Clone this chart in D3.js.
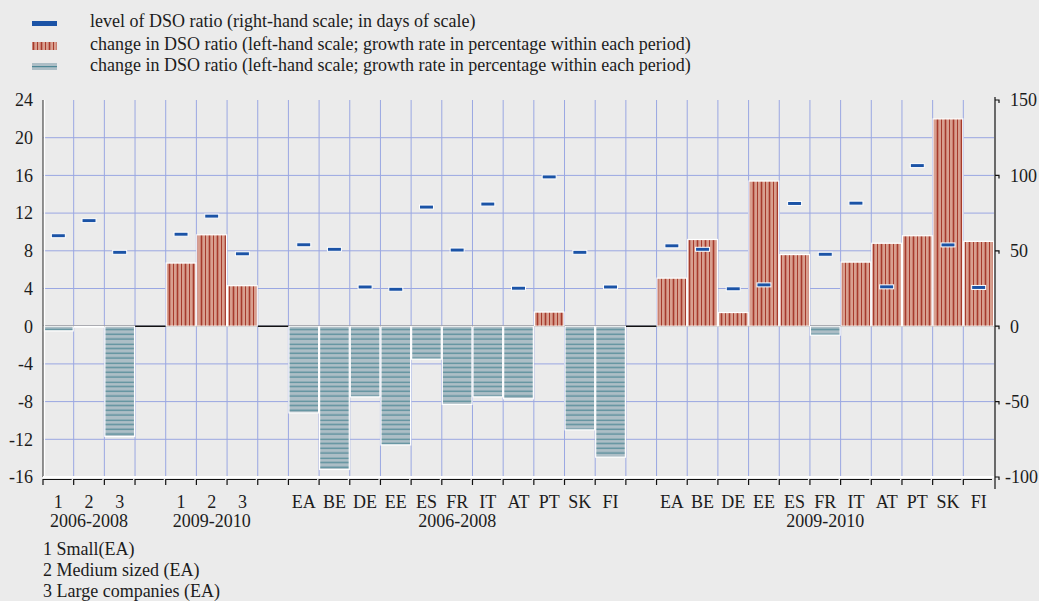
<!DOCTYPE html>
<meta charset="utf-8">
<style>
  body { margin: 0; background: #ebebeb; }
  text { font-family: "Liberation Serif", "Times New Roman", serif; font-size: 18px; fill: #1c1c1c; }
  .grid line { stroke: #9aa7e2; stroke-width: 1; }
</style>
<svg width="1039" height="601"></svg>
<script src="https://d3js.org/d3.v7.min.js"></script>
<script>
// ---- data ----
var sizeCats = ["1", "2", "3"];
var countryCats = ["EA", "BE", "DE", "EE", "ES", "FR", "IT", "AT", "PT", "SK", "FI"];
var periods = ["2006-2008", "2009-2010"];
var sizeNotes = ["1 Small(EA)", "2 Medium sized (EA)", "3 Large companies (EA)"];

// change in DSO ratio, % (left scale)
var sizeChange0608 = [-0.5, -0.1, -11.7];
var sizeChange0910 = [6.7, 9.7, 4.3];
var countryChange0608 = [-9.2, -15.2, -7.5, -12.6, -3.5, -8.3, -7.5, -7.7, 1.5, -11.0, -13.9];
var countryChange0910 = [5.1, 9.2, 1.45, 15.4, 7.6, -0.95, 6.8, 8.8, 9.6, 22.0, 9.0];

// level of DSO ratio, days (right scale)
var sizeDso0608 = [60, 70, 49];
var sizeDso0910 = [61, 73, 48];
var countryDso0608 = [54, 51, 26, 24.5, 79, 50.5, 81, 25.2, 99, 49, 26];
var countryDso0910 = [53.3, 51, 24.8, 27.4, 81.4, 47.7, 81.6, 26.1, 106.5, 53.9, 25.7];

var leftTicks = [24, 20, 16, 12, 8, 4, 0, -4, -8, -12, -16];
var rightTicks = [150, 100, 50, 0, -50, -100];

// ---- build slot list (with empty gaps between blocks) ----
var blocks = [
  { cats: sizeCats, period: periods[0], chg: sizeChange0608, dso: sizeDso0608 },
  { cats: sizeCats, period: periods[1], chg: sizeChange0910, dso: sizeDso0910 },
  { cats: countryCats, period: periods[0], chg: countryChange0608, dso: countryDso0608 },
  { cats: countryCats, period: periods[1], chg: countryChange0910, dso: countryDso0910 }
];
var slots = [];
blocks.forEach(function(b, bi) {
  b.start = slots.length;
  b.cats.forEach(function(c, i) {
    slots.push({ id: slots.length, cat: c, chg: b.chg[i], dso: b.dso[i] });
  });
  b.end = slots.length - 1;
  if (bi < blocks.length - 1) slots.push({ id: slots.length, gap: true });
});

var svg = d3.select("svg");
var pL = 43, pR = 994, pT = 100, pB = 477;

var x = d3.scaleBand().domain(slots.map(function(d) { return d.id; })).range([pL, pR]).padding(0);
var y = d3.scaleLinear().domain([-16, 24]).range([pB, pT]);
var y2 = d3.scaleLinear().domain([-100, 150]).range([pB, pT]);

// patterns
var defs = svg.append("defs");
var pr = defs.append("pattern").attr("id", "redStripe")
    .attr("patternUnits", "userSpaceOnUse").attr("width", 16).attr("height", 10);
pr.append("rect").attr("width", 16).attr("height", 10).attr("fill", "#d89f8f");
[[1.5, 1.6], [5.5, 1], [9.5, 1.6], [13.5, 1]].forEach(function(s) {
  pr.append("rect").attr("x", s[0] - s[1] / 2).attr("y", 0).attr("width", s[1]).attr("height", 10).attr("fill", "#a63a2c");
});
var pb = defs.append("pattern").attr("id", "blueStripe")
    .attr("patternUnits", "userSpaceOnUse").attr("width", 10).attr("height", 19).attr("y", 324.7);
pb.append("rect").attr("width", 10).attr("height", 19).attr("fill", "#adbec6");
[[0, 2.2], [4.75, 1.2], [9.5, 1.2], [14.25, 1.2]].forEach(function(s) {
  pb.append("rect").attr("x", 0).attr("y", s[0] - s[1] / 2).attr("width", 10).attr("height", s[1]).attr("fill", "#4d8795");
});

// gridlines
var grid = svg.append("g").attr("class", "grid");
grid.selectAll("line.h")
  .data(leftTicks.filter(function(t) { return t > -16 && t < 24; }))
  .enter().append("line").attr("class", "h")
  .attr("x1", pL).attr("x2", pR)
  .attr("y1", function(d) { return y(d); }).attr("y2", function(d) { return y(d); });
grid.selectAll("line.v")
  .data(slots.slice(1))
  .enter().append("line").attr("class", "v")
  .attr("x1", function(d) { return x(d.id); }).attr("x2", function(d) { return x(d.id); })
  .attr("y1", pT).attr("y2", pB);

// zero line
svg.append("line")
  .attr("x1", pL).attr("x2", pR).attr("y1", y(0)).attr("y2", y(0))
  .attr("stroke", "#111").attr("stroke-width", 1.5);

// bars
var data = slots.filter(function(d) { return !d.gap; });
svg.append("g").selectAll("rect")
  .data(data)
  .enter().append("rect")
  .attr("x", function(d) { return x(d.id) + 0.5; })
  .attr("width", x.bandwidth() - 1)
  .attr("y", function(d) { return y(Math.max(0, d.chg)); })
  .attr("height", function(d) { return Math.abs(y(d.chg) - y(0)); })
  .attr("fill", function(d) { return d.chg >= 0 ? "url(#redStripe)" : "url(#blueStripe)"; })
  .attr("stroke", "#fff").attr("stroke-width", 1.2);

// DSO level markers
svg.append("g").selectAll("rect")
  .data(data)
  .enter().append("rect")
  .attr("x", function(d) { return x(d.id) + x.bandwidth() / 2 - 7; })
  .attr("y", function(d) { return y2(d.dso) - 2; })
  .attr("width", 14).attr("height", 4)
  .attr("fill", "#1b53a6").attr("stroke", "#fff").attr("stroke-width", 1);

// left axis
svg.append("line").attr("x1", pL).attr("x2", pL).attr("y1", pT).attr("y2", pB)
  .attr("stroke", "#555").attr("stroke-width", 1.3);
svg.append("line").attr("x1", pL + 1.5).attr("x2", pL + 1.5).attr("y1", pT).attr("y2", pB)
  .attr("stroke", "#fff").attr("stroke-width", 1.2);
svg.append("g").selectAll("text")
  .data(leftTicks).enter().append("text")
  .attr("x", 33).attr("y", function(d) { return y(d); }).attr("dy", "0.35em")
  .attr("text-anchor", "end").text(function(d) { return d; });

// bottom axis
svg.append("line").attr("x1", pL).attr("x2", pR).attr("y1", pB).attr("y2", pB)
  .attr("stroke", "#fff").attr("stroke-width", 2);
var bticks = svg.append("g").attr("stroke", "#111").attr("stroke-width", 1.2).attr("fill", "none");
bticks.selectAll("path")
  .data(slots).enter().append("path")
  .attr("d", function(d) {
    var x0 = x(d.id), x1 = x0 + x.bandwidth() - 2;
    return "M" + x0 + ",485V479.5H" + x1;
  });

// right axis
var ra = svg.append("g").attr("stroke", "#111").attr("stroke-width", 1.2).attr("fill", "none");
ra.append("line").attr("x1", pR + 1).attr("x2", pR + 1).attr("y1", pT - 3).attr("y2", 489);
ra.selectAll("path").data(rightTicks).enter().append("path")
  .attr("d", function(d) { return "M" + (pR + 1) + "," + y2(d) + "H" + (pR + 5) + "V" + (y2(d) + 3); });
svg.append("g").selectAll("text")
  .data(rightTicks).enter().append("text")
  .attr("x", function(d) { return d < 0 ? 1005 : 1010; })
  .attr("y", function(d) { return y2(d); }).attr("dy", "0.35em")
  .text(function(d) { return d; });

// category labels
svg.append("g").selectAll("text")
  .data(data).enter().append("text")
  .attr("x", function(d) { return x(d.id) + x.bandwidth() / 2; })
  .attr("y", 508).attr("text-anchor", "middle")
  .text(function(d) { return d.cat; });

// period labels
svg.append("g").selectAll("text")
  .data(blocks).enter().append("text")
  .attr("x", function(b) { return (x(b.start) + x(b.end) + x.bandwidth()) / 2; })
  .attr("y", 527).attr("text-anchor", "middle")
  .text(function(b) { return b.period; });

// footnotes
svg.append("g").selectAll("text")
  .data(sizeNotes).enter().append("text")
  .attr("x", 43).attr("y", function(d, i) { return 555 + i * 21; })
  .text(function(d) { return d; });

// legend
var lg = svg.append("g");
lg.append("rect").attr("x", 32).attr("y", 21).attr("width", 25).attr("height", 5).attr("fill", "#1b53a6");
lg.append("rect").attr("x", 32).attr("y", 42).attr("width", 25).attr("height", 8).attr("fill", "url(#redStripe)");
lg.append("rect").attr("x", 32).attr("y", 63).attr("width", 25).attr("height", 7).attr("fill", "#adbec6");
lg.append("rect").attr("x", 32).attr("y", 66).attr("width", 25).attr("height", 1.2).attr("fill", "#4d8795");
var legendText = [
  "level of DSO ratio (right-hand scale; in days of scale)",
  "change in DSO ratio (left-hand scale; growth rate in percentage within each period)",
  "change in DSO ratio (left-hand scale; growth rate in percentage within each period)"
];
lg.selectAll("text").data(legendText).enter().append("text")
  .attr("x", 90).attr("y", function(d, i) { return [27, 50, 71][i]; })
  .text(function(d) { return d; });
</script>
